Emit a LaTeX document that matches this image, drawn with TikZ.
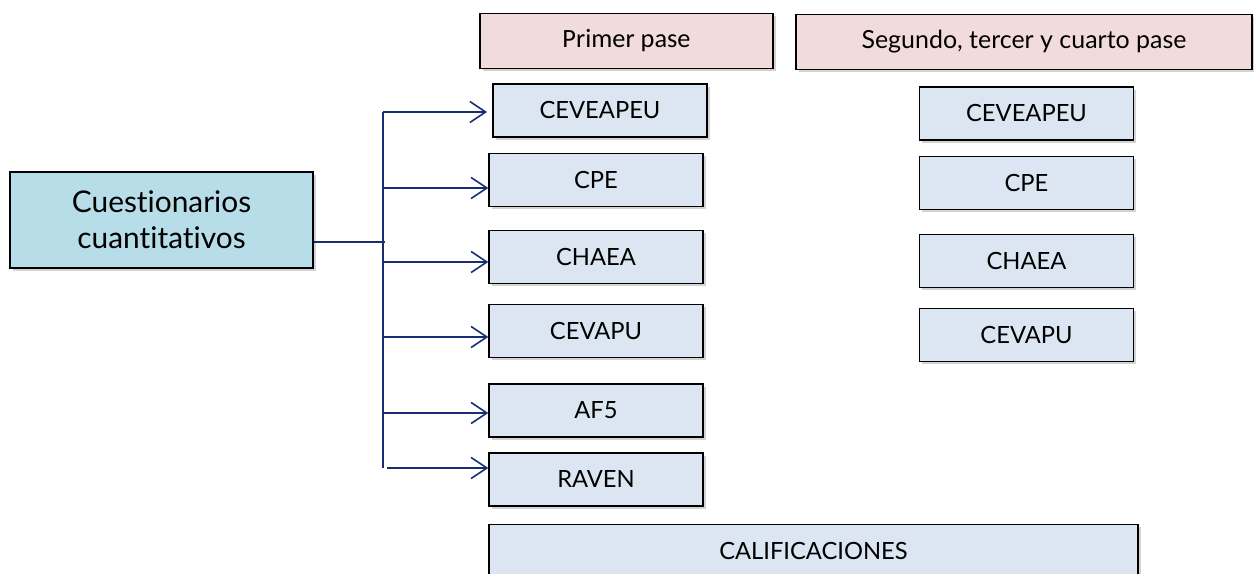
\documentclass[tikz,border=0pt]{standalone}
\usepackage{fontspec}
\setmainfont[Ligatures=NoCommon]{Lato}
\newfontfamily\headfont{Carlito}
\usetikzlibrary{arrows.meta,shadows}
\definecolor{boxblue}{RGB}{220,230,242}
\definecolor{mainblue}{RGB}{183,222,232}
\definecolor{headpink}{RGB}{242,220,219}
\definecolor{linenavy}{RGB}{25,45,115}
\begin{document}
\begin{tikzpicture}[x=0.02cm,y=-0.02cm,
	box/.style={draw=black,line width=0.8pt,fill=boxblue,minimum width=4.28cm,minimum height=1.06cm,
		inner sep=0pt,font=\fontsize{13.5}{16}\selectfont,drop shadow={shadow xshift=1.5pt,shadow yshift=-1.5pt,opacity=0.35}},
	headbox/.style={box,fill=headpink,minimum height=1.1cm,font=\headfont\fontsize{15}{17}\selectfont},
	branch/.style={draw=linenavy,line width=0.9pt,-{Straight Barb[length=9pt,width=12pt]}}]
	\useasboundingbox (0,0) rectangle (1254,574);
	% cabeceras
	\node[headbox,minimum width=5.86cm] (primer) at (626.5,41) {Primer pase};
	\node[headbox,minimum width=9.12cm,font=\fontsize{14.2}{17}\selectfont] (segundo) at (1024,42) {Segundo, tercer y cuarto pase};
	% cuestionarios
	\node[box,fill=mainblue,minimum width=6.06cm,minimum height=1.92cm,align=center,
		font=\fontsize{17}{20.5}\selectfont] (cuest) at (161.5,220) {Cuestionarios\\cuantitativos};
	% primer pase
	\node[box] (ceveapeuA) at (600,110.5) {CEVEAPEU};
	\node[box] (cpeA) at (596,180) {CPE};
	\node[box] (chaeaA) at (596,257) {CHAEA};
	\node[box] (cevapuA) at (596,331) {CEVAPU};
	\node[box] (afA) at (596,410.5) {AF5};
	\node[box] (ravenA) at (596,479.5) {RAVEN};
	\node[box,minimum width=12.98cm] (calif) at (813.5,551) {CALIFICACIONES};
	% segundo, tercer y cuarto pase
	\node[box] (ceveapeuB) at (1026.5,113.5) {CEVEAPEU};
	\node[box] (cpeB) at (1026.5,183) {CPE};
	\node[box] (chaeaB) at (1026.5,261) {CHAEA};
	\node[box] (cevapuB) at (1026.5,335) {CEVAPU};
	% tronco
	\coordinate (trunkTop) at (383,112);
	\coordinate (trunkMid) at (385,242);
	\coordinate (trunkBot) at (383,468);
	\draw[linenavy,line width=1.2pt] (trunkTop) -- (trunkBot);
	\draw[linenavy,line width=1.7pt] (cuest.east |- trunkMid) -- (trunkMid);
	\draw[branch] (trunkTop) -- ([xshift=-3pt]ceveapeuA.west |- trunkTop);
	\draw[branch] (trunkTop |- 0,188) -- (cpeA.west |- 0,188);
	\draw[branch] (trunkTop |- 0,262) -- (chaeaA.west |- 0,262);
	\draw[branch] (trunkTop |- 0,337) -- (cevapuA.west |- 0,337);
	\draw[branch] (trunkTop |- 0,413) -- (afA.west |- 0,413);
	\draw[branch] ([xshift=2pt]trunkBot) -- (ravenA.west |- trunkBot);
\end{tikzpicture}
\end{document}
